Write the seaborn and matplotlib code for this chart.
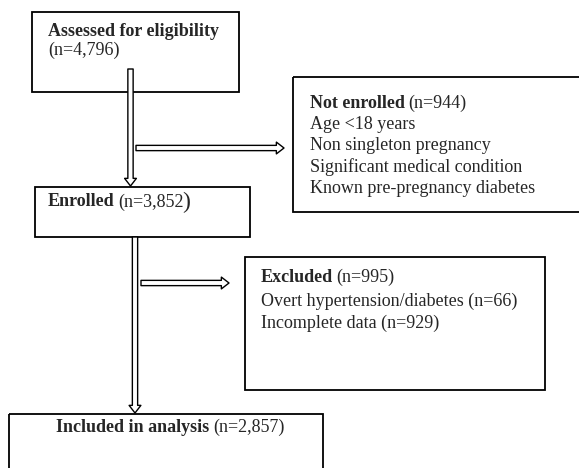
import matplotlib
matplotlib.use("Agg")
import matplotlib.pyplot as plt
import matplotlib.patches as mpatches
import seaborn as sns

# flow counts
assessed_n = "4,796"
not_enrolled_n = "944"
enrolled_n = "3,852"
excluded_n = "995"
included_n = "2,857"

not_enrolled_reasons = ["Age <18 years", "Non singleton pregnancy",
                        "Significant medical condition", "Known pre-pregnancy diabetes"]
excluded_reasons = ["Overt hypertension/diabetes (n=66)", "Incomplete data (n=929)"]

sns.set_theme(style="white")
plt.rcParams['font.family'] = ['Liberation Serif', 'DejaVu Serif']

fig = plt.figure(figsize=(5.79, 4.68), dpi=100)
ax = fig.add_axes([0, 0, 1, 1])
ax.set_xlim(0, 579)
ax.set_ylim(468, 0)
ax.axis("off")

FS = 13


def box(x0, y0, x1, y1):
    ax.add_patch(mpatches.Rectangle((x0, y0), x1 - x0, y1 - y0, fill=False,
                                    ec="black", lw=1.3, zorder=2))


def label(x, y, bold, rest="", ha="left"):
    t = ax.text(x, y, bold, fontsize=FS, fontweight="bold", va="center", ha=ha, zorder=5)
    if rest:
        t = ax.annotate(rest, xy=(1, 0.5), xycoords=t, xytext=(2.5, 0), textcoords="offset points",
                        va="center", ha="left", fontsize=FS, zorder=5)
    return t


def arrow(start, end):
    ax.annotate("", xy=end, xytext=start,
                arrowprops=dict(arrowstyle="simple,head_length=0.55,head_width=0.85,tail_width=0.38",
                                fc="white", ec="black", lw=1.0, shrinkA=0, shrinkB=0,
                                mutation_scale=10), zorder=4)


# boxes
box(32, 12, 239, 92)
box(293, 77, 600, 212)
box(35, 187, 250, 237)
box(245, 257, 545, 390)
box(9, 414, 323, 490)

# box 1
label(48, 31, "Assessed for eligibility")
ax.text(48, 50, "(n=" + assessed_n + ")", fontsize=FS, va="center", zorder=5)

# not enrolled
label(310, 103, "Not enrolled", "(n=" + not_enrolled_n + ")")
for i, r in enumerate(not_enrolled_reasons):
    ax.text(310, 124.5 + i * 21.2, r, fontsize=FS, va="center", zorder=5)

# enrolled (closing paren is larger in the original)
t = label(48, 202, "Enrolled", "(n=" + enrolled_n)
ax.annotate(")", xy=(1, 0.5), xycoords=t, xytext=(-1, 0), textcoords="offset points",
            va="center", ha="left", fontsize=FS + 4, zorder=5)

# excluded
label(261, 277, "Excluded", "(n=" + excluded_n + ")")
for i, r in enumerate(excluded_reasons):
    ax.text(261, 301 + i * 22, r, fontsize=FS, va="center", zorder=5)

# included
t = ax.text(166, 427, "Included in analysis (n=" + included_n + ")", fontsize=FS, va="center",
            ha="center", alpha=0)
fig.canvas.draw()
bb = t.get_window_extent().transformed(ax.transData.inverted())
label(bb.x0, 427, "Included in analysis", "(n=" + included_n + ")")

# arrows
arrow((130.5, 69), (130.5, 186))
arrow((136, 148), (284, 148))
arrow((135, 237), (135, 413))
arrow((141, 283), (229, 283))

fig.savefig("out.png", dpi=100)
